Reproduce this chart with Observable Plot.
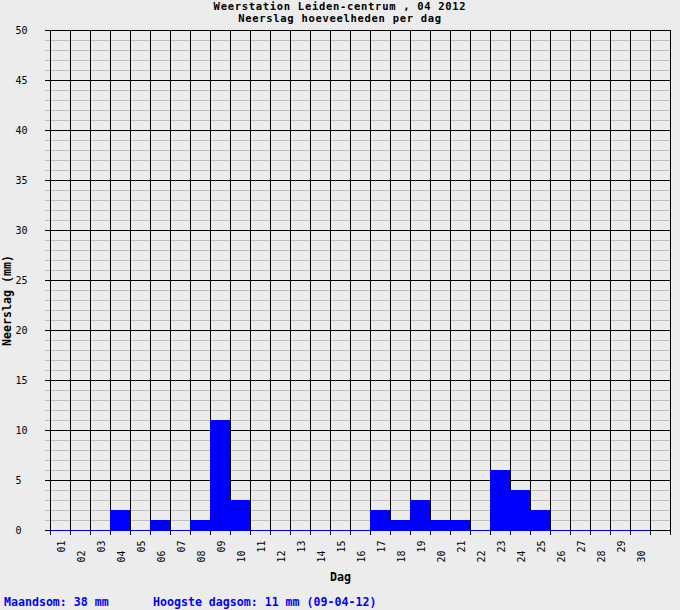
<!DOCTYPE html>
<html>
<head>
<meta charset="utf-8">
<script src="https://cdn.jsdelivr.net/npm/d3@7"></script>
<script src="https://cdn.jsdelivr.net/npm/@observablehq/plot@0.6"></script>
<style>
  body { margin: 0; background: #ececec; }
  #wrap { position: relative; width: 680px; height: 610px; font-family: "DejaVu Sans Mono", monospace; }
  .title { position: absolute; left: 0; width: 680px; text-align: center; font-weight: bold; font-size: 10.5px; letter-spacing: 0.7px; line-height: 12px; color: #000; }
  #plot { position: absolute; left: 0; top: 24px; }
  .foot { position: absolute; top: 595px; font-weight: bold; font-size: 11.6px; color: #0000ff; white-space: pre; }
</style>
</head>
<body>
<div id="wrap">
  <div class="title" style="top:0px">Weerstation Leiden-centrum , 04 2012</div>
  <div class="title" style="top:12px">Neerslag hoeveelheden per dag</div>
  <div id="plot"></div>
  <div class="foot" style="left:4px">Maandsom: 38 mm</div>
  <div class="foot" style="left:153px">Hoogste dagsom: 11 mm (09-04-12)</div>
</div>
<script>
// day labels and daily rainfall (mm), April 2012
const days = ["01","02","03","04","05","06","07","08","09","10","11","12","13","14","15",
              "16","17","18","19","20","21","22","23","24","25","26","27","28","29","30"];
const rain = [0,0,0,2,0,1,0,1,11,3,0,0,0,0,0,0,2,1,3,1,1,0,6,4,2,0,0,0,0,0];
const yMajor = [0,5,10,15,20,25,30,35,40,45,50];

const data = days.map((label, i) => ({label, day: i + 1, mm: rain[i]}));
const yMinor = d3.range(0, 51).filter(v => v % 5 !== 0);
const bounds = d3.range(0, 32);

const plot = Plot.plot({
  width: 680,
  height: 570,
  marginTop: 6,
  marginBottom: 64,
  marginLeft: 50,
  marginRight: 10,
  style: { background: "transparent", fontFamily: "DejaVu Sans Mono, monospace" },
  x: { domain: [0, 31], axis: null },
  y: { domain: [0, 50], axis: null },
  marks: [
    Plot.ruleY(yMinor, { x1: -0.25, x2: 31, stroke: "#bdbdbd", strokeWidth: 1 }),
    Plot.ruleY(yMajor, { x1: -0.25, x2: 31, stroke: "#000", strokeWidth: 1 }),
    Plot.ruleX(bounds, { y1: -0.5, y2: 50, stroke: "#000", strokeWidth: 1 }),
    Plot.rectY(data, { x1: d => d.day - 1, x2: d => d.day, y1: 0, y2: "mm", fill: "#0000ff" }),
    Plot.ruleY([0], { x1: 0, x2: 30, stroke: "#0000ff", strokeWidth: 1 }),
    Plot.text(yMajor, { y: d => d, text: d => String(d), frameAnchor: "left", dx: -35,
      textAnchor: "start", fontSize: 10, fill: "#000" }),
    Plot.text(data, { x: d => d.day - 0.5, y: d => d.day % 2 ? -1 : -2, text: "label",
      rotate: -90, textAnchor: "end", dx: 1, fontSize: 10, fill: "#000" }),
    Plot.text(["Dag"], { frameAnchor: "bottom", dx: -20, dy: 50, fontWeight: "bold",
      fontSize: 11.6, fill: "#000" }),
    Plot.text(["Neerslag (mm)"], { frameAnchor: "left", dx: -43, dy: 20, rotate: -90,
      textAnchor: "middle", fontWeight: "bold", fontSize: 11.6, fill: "#000" })
  ]
});

document.getElementById("plot").appendChild(plot);
</script>
</body>
</html>
